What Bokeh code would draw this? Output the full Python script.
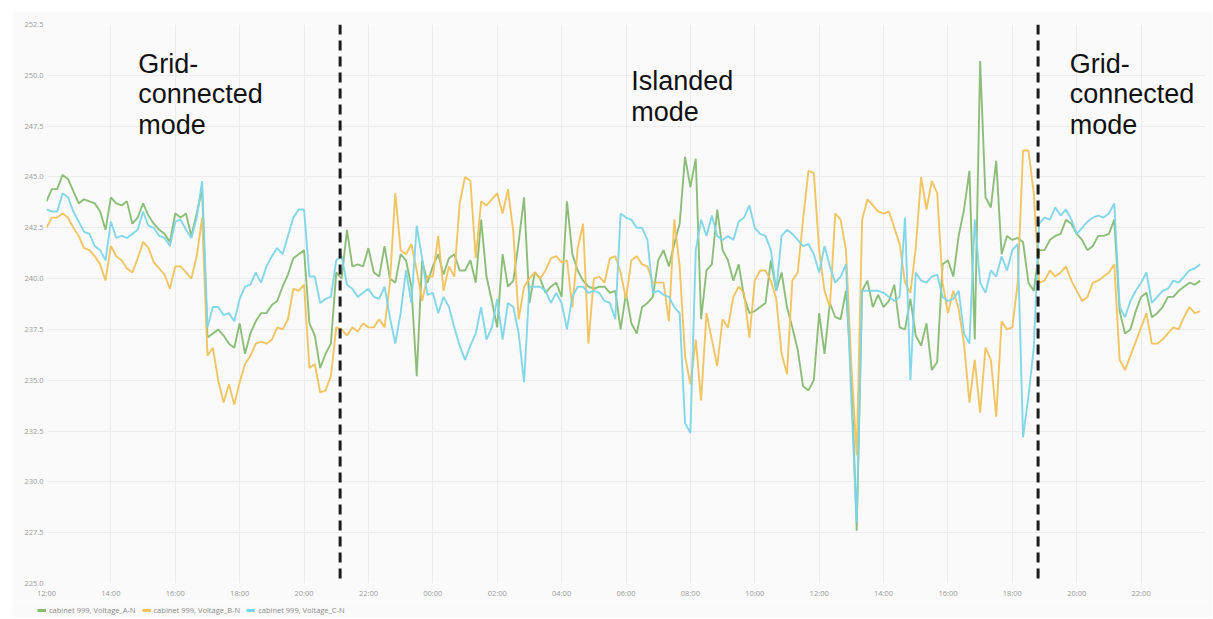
from datetime import datetime, timedelta

from bokeh.plotting import figure
from bokeh.layouts import row, column
from bokeh.models import (ColumnDataSource, Span, Label, Legend, LegendItem, Spacer,
                          FixedTicker, DatetimeTickFormatter, NumeralTickFormatter, Range1d)
from bokeh.embed import file_html
from bokeh.resources import INLINE

# ---------------- data ----------------
start_time = datetime(2021, 6, 1, 12, 0)
sample_minutes = 10

voltage_an = [
    243.8, 244.4, 244.4, 245.1, 244.9, 244.3, 243.7, 243.9, 243.8, 243.7,
    243.3, 242.4, 244.0, 243.7, 243.6, 243.8, 242.7, 243.0, 243.7, 243.1,
    242.7, 242.4, 242.2, 241.8, 243.2, 243.0, 243.2, 242.1, 243.2, 244.4,
    237.1, 237.3, 237.5, 237.2, 236.8, 236.6, 237.8, 236.3, 237.3, 237.9,
    238.3, 238.3, 238.7, 238.9, 239.6, 240.2, 241.0, 241.2, 241.4, 237.8,
    237.2, 235.6, 236.3, 236.8, 240.3, 240.0, 242.4, 240.6, 240.7, 240.6,
    241.5, 240.3, 240.1, 241.6, 240.0, 239.8, 241.2, 240.9, 239.6, 235.2,
    240.9, 239.8, 240.6, 241.2, 240.2, 241.0, 241.2, 240.4, 240.4, 240.9,
    239.8, 242.9, 240.1, 238.9, 237.6, 241.2, 239.6, 239.9, 241.8, 244.0,
    238.8, 240.3, 240.0, 239.3, 239.6, 239.8, 239.1, 243.8, 241.2, 240.4,
    239.9, 239.6, 239.5, 239.6, 239.6, 239.3, 239.4, 237.5, 239.3, 237.8,
    237.3, 238.6, 238.8, 239.1, 240.9, 241.4, 240.6, 241.7, 242.7, 246.0,
    244.5, 245.9, 238.0, 240.4, 240.7, 243.4, 241.4, 240.9, 239.9, 240.7,
    239.1, 238.3, 238.4, 238.6, 238.8, 240.9, 239.4, 240.3, 238.6, 237.6,
    236.5, 234.7, 234.5, 235.0, 238.3, 236.3, 238.8, 238.1, 238.0, 239.4,
    235.3, 227.6, 239.4, 239.9, 238.6, 239.2, 238.6, 238.9, 239.7, 237.6,
    237.5, 239.0, 237.2, 236.7, 237.8, 235.5, 235.9, 240.7, 240.9, 240.1,
    242.1, 243.4, 245.3, 237.0, 250.7, 244.0, 243.5, 245.8, 241.2, 242.1,
    241.9, 242.0, 241.8, 239.8, 239.4, 241.4, 241.4, 241.9, 242.1, 242.2,
    242.9, 242.7, 242.2, 241.9, 241.4, 241.6, 242.1, 242.1, 242.2, 242.9,
    238.4, 237.3, 237.5, 238.4, 239.1, 239.3, 238.1, 238.3, 238.6, 239.1,
    239.1, 239.4, 239.6, 239.8, 239.7, 239.9,
]

voltage_bn = [
    242.5, 243.0, 243.0, 243.2, 243.0, 242.5, 242.1, 241.5, 241.4, 241.1,
    240.7, 239.9, 241.6, 241.1, 240.9, 240.5, 240.3, 241.0, 241.8, 241.5,
    240.8, 240.5, 240.2, 239.5, 240.6, 240.6, 240.3, 240.0, 241.1, 243.0,
    236.2, 236.6, 235.0, 233.9, 234.8, 233.8, 234.9, 235.8, 236.2, 236.8,
    236.9, 236.8, 237.0, 237.6, 237.5, 238.0, 239.5, 239.4, 239.7, 235.6,
    235.8, 234.4, 234.5, 235.2, 237.6, 237.5, 237.2, 237.6, 237.4, 237.8,
    237.6, 237.6, 238.0, 237.6, 239.8, 244.2, 241.4, 241.2, 241.7, 240.4,
    238.9, 240.1, 240.1, 242.1, 239.4, 240.6, 240.1, 243.7, 245.0, 244.8,
    241.0, 243.8, 243.6, 243.9, 244.2, 243.2, 244.4, 242.3, 238.0, 239.6,
    240.0, 240.3, 240.0, 240.4, 241.0, 241.1, 240.8, 240.9, 238.6, 241.5,
    242.7, 236.8, 240.0, 240.1, 239.8, 241.0, 241.1, 240.3, 239.0, 240.9,
    241.1, 240.7, 240.6, 239.8, 239.8, 239.8, 237.9, 242.9, 240.6, 236.2,
    234.8, 237.0, 234.0, 238.3, 237.0, 235.7, 238.0, 237.6, 239.1, 239.6,
    239.3, 237.1, 239.9, 240.4, 240.4, 239.9, 239.0, 236.3, 235.3, 239.9,
    240.3, 242.9, 245.3, 245.2, 241.4, 239.4, 238.6, 243.2, 242.9, 241.4,
    235.7, 231.3, 242.9, 243.9, 243.6, 243.3, 243.2, 243.3, 242.5, 241.7,
    239.8, 239.3, 241.5, 245.0, 243.4, 244.8, 244.2, 239.8, 238.3, 239.4,
    238.5, 236.8, 233.9, 236.0, 233.4, 236.6, 236.0, 233.2, 237.9, 237.5,
    237.6, 239.8, 246.3, 246.3, 244.2, 239.8, 239.9, 240.4, 240.1, 240.3,
    240.6, 239.9, 239.4, 238.9, 239.1, 239.8, 239.9, 240.1, 240.3, 240.7,
    236.0, 235.5, 236.2, 236.9, 237.6, 238.3, 236.8, 236.8, 237.0, 237.3,
    237.6, 237.5, 238.1, 238.6, 238.3, 238.4,
]

voltage_cn = [
    243.4, 243.3, 243.3, 244.2, 244.0, 243.3, 242.8, 242.3, 242.2, 241.6,
    241.4, 240.9, 242.8, 242.0, 242.1, 242.0, 242.2, 242.4, 243.3, 242.6,
    242.5, 242.1, 242.0, 241.6, 242.8, 242.9, 242.4, 242.0, 243.0, 244.8,
    237.6, 238.6, 238.6, 238.2, 238.3, 237.9, 239.0, 239.6, 239.7, 240.3,
    239.8, 240.6, 241.1, 241.5, 241.2, 242.1, 243.0, 243.4, 243.4, 240.1,
    240.1, 238.8, 239.0, 239.1, 240.9, 241.1, 239.7, 239.5, 239.1, 239.3,
    239.5, 239.1, 239.0, 239.6, 238.1, 236.8, 238.3, 240.4, 238.8, 242.6,
    241.0, 239.2, 239.3, 238.3, 239.1, 238.6, 237.6, 236.7, 236.0, 236.7,
    237.3, 238.6, 237.0, 237.6, 239.0, 237.0, 238.8, 238.6, 237.3, 234.9,
    239.6, 239.6, 239.6, 239.4, 238.8, 239.3, 238.8, 237.5, 239.1, 239.6,
    239.6, 239.3, 239.4, 239.3, 238.9, 238.8, 238.0, 243.2, 243.0, 242.9,
    242.5, 242.5, 241.9, 239.3, 239.4, 239.2, 239.1, 238.6, 238.3, 232.9,
    232.4, 241.4, 242.9, 242.1, 243.1, 242.1, 241.9, 242.1, 241.9, 242.8,
    243.0, 243.6, 242.5, 242.2, 242.1, 241.4, 239.4, 242.1, 242.4, 242.2,
    241.9, 241.6, 241.7, 241.2, 240.3, 241.6, 240.6, 239.8, 240.1, 240.7,
    234.0, 228.0, 239.4, 239.4, 239.4, 239.4, 239.3, 239.1, 238.9, 239.1,
    243.0, 235.0, 240.3, 239.9, 239.8, 240.1, 240.2, 239.1, 238.9, 239.0,
    239.4, 237.3, 236.8, 242.9, 239.8, 239.3, 240.4, 240.1, 241.1, 240.4,
    241.4, 241.7, 232.2, 234.2, 236.6, 242.7, 243.0, 242.9, 243.5, 243.1,
    243.4, 242.9, 242.2, 242.5, 242.8, 243.0, 243.1, 243.0, 243.2, 243.7,
    238.6, 238.1, 238.9, 239.4, 239.8, 240.3, 238.8, 239.1, 239.4, 239.5,
    239.9, 239.8, 240.1, 240.4, 240.5, 240.7,
]

series_names = ["cabinet 999, Voltage_A-N", "cabinet 999, Voltage_B-N", "cabinet 999, Voltage_C-N"]
series_colors = ["#86ba72", "#f1c25c", "#7dd5e8"]

# mode switch instants (hours after start)
islanding_hours = 9.12
reconnect_hours = 30.8

mode_labels = [
    (["Grid-", "connected", "mode"], 2.85),
    (["Islanded", "mode"], 18.16),
    (["Grid-", "connected", "mode"], 31.78),
]

y_ticks = [225.0, 227.5, 230.0, 232.5, 235.0, 237.5, 240.0, 242.5, 245.0, 247.5, 250.0, 252.5]

# ---------------- build ----------------
EPOCH = datetime(1970, 1, 1)
PANEL = "#fafafa"


def ms(dt):
    return (dt - EPOCH).total_seconds() * 1000.0


n = min(len(voltage_an), len(voltage_bn), len(voltage_cn))
times = [start_time + timedelta(minutes=sample_minutes * i) for i in range(n)]

x_start = start_time
x_end = start_time + timedelta(hours=36)

p = figure(width=1200, height=589, x_axis_type="datetime",
           x_range=Range1d(ms(x_start), ms(x_end)), y_range=Range1d(225.0, 252.5),
           output_backend="svg", toolbar_location=None,
           min_border_left=34, min_border_right=7, min_border_top=13, min_border_bottom=16)

p.background_fill_color = PANEL
p.border_fill_color = PANEL
p.outline_line_color = None

for vals, name, col in zip([voltage_an, voltage_bn, voltage_cn], series_names, series_colors):
    src = ColumnDataSource(dict(t=times, v=vals[:n]))
    p.line("t", "v", source=src, line_color=col, line_width=1.9, line_alpha=0.95)

# axes
tick_times = []
tt = x_start
while tt < x_end:
    tick_times.append(ms(tt))
    tt += timedelta(hours=2)

p.xaxis.ticker = FixedTicker(ticks=tick_times)
fmt = "%H:%M"
p.xaxis.formatter = DatetimeTickFormatter(minutes=fmt, hourmin=fmt, hours=fmt, days=fmt,
                                          months=fmt, years=fmt, context=None)
p.yaxis.ticker = FixedTicker(ticks=y_ticks)
p.yaxis.formatter = NumeralTickFormatter(format="0.0")

for ax in (p.xaxis[0], p.yaxis[0]):
    ax.axis_line_color = None
    ax.major_tick_line_color = None
    ax.minor_tick_line_color = None
    ax.major_tick_out = 0
    ax.major_tick_in = 0
    ax.minor_tick_out = 0
    ax.major_label_text_font = "Open Sans"
    ax.major_label_text_font_size = "7.5px"
    ax.major_label_text_color = "#9a9a9a"
p.xaxis.major_label_standoff = 4
p.yaxis.major_label_standoff = 3

p.xgrid.grid_line_color = "#ececec"
p.ygrid.grid_line_color = "#ececec"

# mode switch lines
for h in (islanding_hours, reconnect_hours):
    p.add_layout(Span(location=ms(start_time + timedelta(hours=h)), dimension="height",
                      line_color="#1c1c1c", line_width=3, line_dash="10 6"))

# mode labels
for lines, h in mode_labels:
    if len(lines) == 3:
        bases = [250.58, 249.06, 247.54]
    else:
        bases = [249.72, 248.2]
    for txt, yb in zip(lines, bases):
        p.add_layout(Label(x=ms(start_time + timedelta(hours=h)), y=yb, text=txt,
                           text_font="Liberation Sans", text_font_size="27px",
                           text_color="#111111", text_baseline="alphabetic",
                           text_align="left"))

# legend strip under the chart (swatches sit outside this strip's visible range)
lg = figure(width=1200, height=18, output_backend="svg", toolbar_location=None,
            x_axis_location=None, y_axis_location=None,
            min_border_left=0, min_border_right=0, min_border_top=0, min_border_bottom=0,
            x_range=Range1d(0, 1), y_range=Range1d(0, 1))
lg.background_fill_color = PANEL
lg.border_fill_color = PANEL
lg.outline_line_color = None
lg.grid.visible = False
items = []
for name, col in zip(series_names, series_colors):
    r = lg.line(x=[5, 6], y=[5, 6], line_color=col, line_width=3)
    items.append(LegendItem(label=name, renderers=[r]))
legend = Legend(items=items, orientation="horizontal", location=(25, 3),
                label_text_font="Open Sans", label_text_font_size="7.5px",
                label_text_color="#8a8a8a", glyph_width=9, glyph_height=6,
                label_height=8, label_standoff=3, spacing=6, padding=1, margin=0,
                border_line_color=None, background_fill_alpha=0)
lg.add_layout(legend)

top_part = row(Spacer(width=12), column(Spacer(height=11), p))
bottom_part = row(Spacer(width=12), lg)
layout = column(top_part, bottom_part)

open("out.html", "w").write(file_html(layout, INLINE))
